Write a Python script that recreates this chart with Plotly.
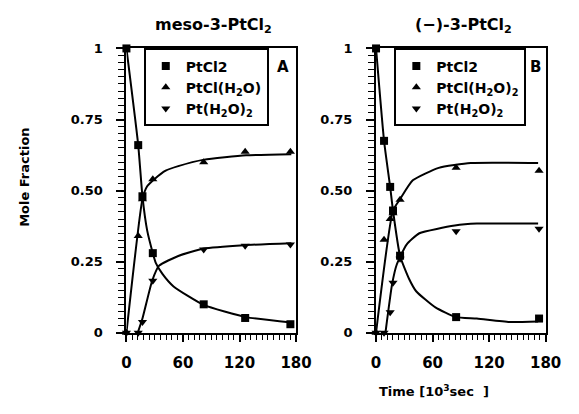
import plotly.graph_objects as go

# ---------------- data ----------------
# Panel A: meso-3-PtCl2
tA = [0, 12.5, 17, 28, 82, 126, 174]
A_ptcl2 = [1.0, 0.66, 0.48, 0.28, 0.10, 0.052, 0.03]
A_ptclh2o = [0.0, 0.34, 0.47, 0.54, 0.60, 0.637, 0.637]
A_pth2o2 = [0.0, 0.0, 0.038, 0.183, 0.293, 0.306, 0.31]

# fitted curves, panel A
cA_ptcl2_x = [0, 12.5, 17, 22, 28, 31, 38, 50, 82, 127, 175]
cA_ptcl2_y = [1.0, 0.66, 0.48, 0.36, 0.28, 0.247, 0.208, 0.163, 0.098, 0.055, 0.036]
cA_ptclh2o_x = [0, 17, 22, 29.6, 41.6, 55, 82.5, 127, 175]
cA_ptclh2o_y = [0.0, 0.47, 0.515, 0.54, 0.57, 0.586, 0.609, 0.624, 0.628]
cA_pth2o2_x = [12, 17, 27.3, 34.7, 55, 82, 125, 175]
cA_pth2o2_y = [0.0, 0.05, 0.183, 0.236, 0.27, 0.296, 0.308, 0.315]

# Panel B: (-)-3-PtCl2
tB = [0, 8.5, 15, 18, 25.5, 85, 173]
B_ptcl2 = [1.0, 0.675, 0.513, 0.43, 0.271, 0.055, 0.05]
B_ptclh2o2 = [0.0, 0.327, 0.40, 0.42, 0.468, 0.58, 0.57]
B_pth2o2 = [0.0, 0.0, 0.072, 0.176, 0.26, 0.357, 0.366]

# fitted curves, panel B
cB_ptcl2_x = [0, 8.5, 15, 18, 25.5, 35, 42.6, 63, 84.6, 107, 141.5, 172]
cB_ptcl2_y = [1.0, 0.675, 0.513, 0.43, 0.27, 0.19, 0.146, 0.089, 0.055, 0.05, 0.038, 0.04]
cB_ptclh2o2_x = [0, 18, 25.5, 39, 66.5, 100.6, 172]
cB_ptclh2o2_y = [0.0, 0.43, 0.47, 0.536, 0.58, 0.597, 0.597]
cB_pth2o2_x = [10, 17, 22, 32.4, 46, 83.6, 107, 172]
cB_pth2o2_y = [0.0, 0.17, 0.24, 0.31, 0.35, 0.377, 0.384, 0.384]

x_ticks = [0, 60, 120, 180]
y_ticks = [0, 0.25, 0.5, 0.75, 1]
y_ticklabels = ["0", "0.25", "0.50", "0.75", "1"]

names_A = ["PtCl2", "PtCl(H<sub>2</sub>O)", "Pt(H<sub>2</sub>O)<sub>2</sub>"]
names_B = ["PtCl2", "PtCl(H<sub>2</sub>O)<sub>2</sub>", "Pt(H<sub>2</sub>O)<sub>2</sub>"]
symbols = ["square", "triangle-up", "triangle-down"]

# ---------------- figure ----------------
W, H = 579, 414
WIDE = "DejaVu Sans, Verdana, sans-serif"
fig = go.Figure()

def curve(x, y, xa, ya):
    fig.add_trace(go.Scatter(x=x, y=y, mode="lines", xaxis=xa, yaxis=ya,
                             line=dict(color="black", width=2, shape="spline", smoothing=0.5),
                             showlegend=False, hoverinfo="skip", cliponaxis=True))

def pts(x, y, name, sym, xa, ya, leg):
    fig.add_trace(go.Scatter(x=x, y=y, mode="markers", name=name, xaxis=xa, yaxis=ya,
                             marker=dict(symbol=sym, color="black", size=8),
                             legend=leg, cliponaxis=False))

curve(cA_ptcl2_x, cA_ptcl2_y, "x", "y")
curve(cA_ptclh2o_x, cA_ptclh2o_y, "x", "y")
curve(cA_pth2o2_x, cA_pth2o2_y, "x", "y")
for yy, nm, sy in zip([A_ptcl2, A_ptclh2o, A_pth2o2], names_A, symbols):
    pts(tA, yy, nm, sy, "x", "y", "legend")

curve(cB_ptcl2_x, cB_ptcl2_y, "x2", "y2")
curve(cB_ptclh2o2_x, cB_ptclh2o2_y, "x2", "y2")
curve(cB_pth2o2_x, cB_pth2o2_y, "x2", "y2")
for yy, nm, sy in zip([B_ptcl2, B_ptclh2o2, B_pth2o2], names_B, symbols):
    pts(tB, yy, nm, sy, "x2", "y2", "legend2")

ydom = [1 - 338 / H, 1 - 43 / H]
xtickfont = dict(family=WIDE, size=15, color="black", weight="bold")
ytickfont = dict(family=WIDE, size=13, color="black", weight="bold")

def xaxis(dom, anchor):
    return dict(domain=dom, anchor=anchor, range=[0, 180], tickvals=x_ticks,
                showgrid=False, zeroline=False, showline=True, linecolor="black",
                linewidth=2, mirror=True, ticks="outside", ticklen=7, tickwidth=1.5,
                tickcolor="black", tickfont=xtickfont, ticklabelstandoff=8,
                minor=dict(dtick=6, ticks="outside", ticklen=5, tickwidth=1.2, tickcolor="black"))

def yaxis(anchor):
    return dict(domain=ydom, anchor=anchor, range=[0, 1], tickvals=y_ticks,
                ticktext=y_ticklabels, showgrid=False, zeroline=False, showline=True,
                linecolor="black", linewidth=2, mirror=True, ticks="outside",
                ticklen=8, tickwidth=1.5, tickcolor="black", tickfont=ytickfont,
                ticklabelstandoff=11,
                minor=dict(dtick=0.025, ticks="outside", ticklen=6, tickwidth=1.2, tickcolor="black"))

legfont = dict(family=WIDE, size=14, color="black", weight="bold")
fig.update_layout(
    width=W, height=H,
    margin=dict(l=0, r=0, t=0, b=0),
    paper_bgcolor="white", plot_bgcolor="white",
    xaxis=xaxis([126 / W, 302 / W], "y"),
    yaxis=yaxis("x"),
    xaxis2=xaxis([385 / W, 561 / W], "y2"),
    yaxis2=yaxis("x2"),
    legend=dict(x=144 / W, y=1 - 43 / H, xanchor="left", yanchor="top",
                bgcolor="white", bordercolor="black", borderwidth=2,
                font=legfont, itemwidth=30, tracegroupgap=0),
    legend2=dict(x=404 / W, y=1 - 43 / H, xanchor="left", yanchor="top",
                 bgcolor="white", bordercolor="black", borderwidth=2,
                 font=legfont, itemwidth=30, tracegroupgap=0),
    font=dict(family=WIDE, color="black"),
)

title_font = dict(family=WIDE, size=16, color="black", weight="bold")
for txt, xc in [("meso-3-PtCl<sub>2</sub>", 216), ("(−)-3-PtCl<sub>2</sub>", 476)]:
    fig.add_annotation(xref="paper", yref="paper", showarrow=False, text=txt,
                       x=xc / W, y=1 - 19 / H, xanchor="center", yanchor="middle",
                       font=title_font)
for txt, xc in [("A", 288), ("B", 550)]:
    fig.add_annotation(xref="paper", yref="paper", showarrow=False, text=txt,
                       x=xc / W, y=1 - 62 / H, xanchor="center", yanchor="middle",
                       font=dict(family=WIDE, size=15, color="black", weight="bold"))
fig.add_annotation(xref="paper", yref="paper", showarrow=False,
                   text="Time [10<sup>3</sup>sec  ]", x=445 / W, y=1 - 398 / H,
                   xanchor="center", yanchor="middle",
                   font=dict(family=WIDE, size=13, color="black", weight="bold"))
fig.add_annotation(xref="paper", yref="paper", showarrow=False, text="Mole Fraction",
                   x=20 / W, y=1 - 177 / H, textangle=-90, xanchor="center",
                   yanchor="middle", font=dict(family=WIDE, size=13, color="black", weight="bold"))

fig.write_html("out.html")
